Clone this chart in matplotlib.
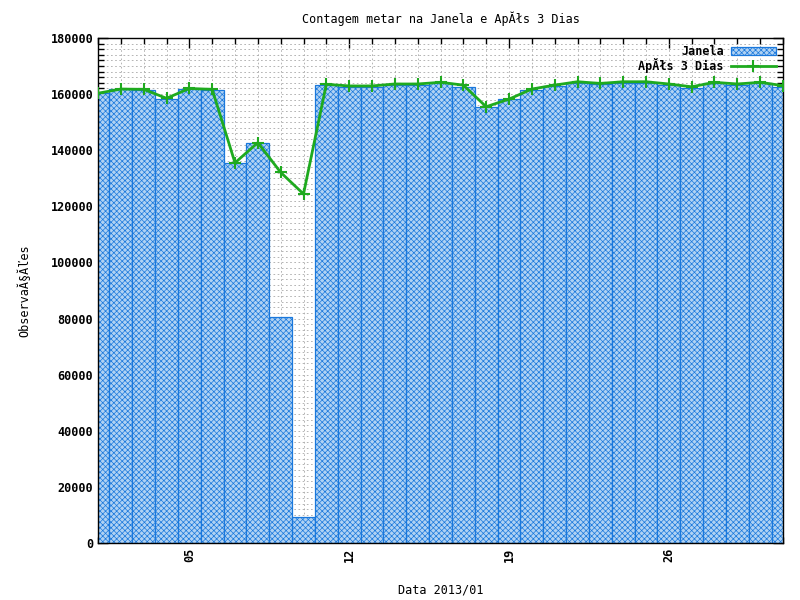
import numpy as np
import matplotlib
matplotlib.use("Agg")
import matplotlib.pyplot as plt
from matplotlib.ticker import MultipleLocator, FixedLocator

# dias de janeiro 2013
days = list(range(1, 32))

# contagem na janela (barras)
janela = [160300, 161800, 161300, 158200, 161800, 161400, 135500, 142400,
          80500, 9400, 163200, 162500, 162600, 163300, 163400, 163800,
          162600, 155300, 158200, 161400, 162900, 163900, 163500, 163900,
          164000, 163300, 162300, 163800, 163300, 163800, 162700]

# contagem apos 3 dias (linha)
apos = [160300, 161800, 161700, 158500, 162000, 161700, 135500, 142700,
        132100, 124400, 163500, 162900, 162900, 163600, 163600, 164200,
        163200, 155500, 158200, 161800, 163200, 164400, 163800, 164400,
        164400, 163600, 162600, 164200, 163600, 164200, 163000]

xticks = [5, 12, 19, 26]
xticklabels = ["05", "12", "19", "26"]

plt.rcParams['font.family'] = ['DejaVu Sans Mono']
plt.rcParams['font.size'] = 8.5
plt.rcParams['font.weight'] = 'bold'
plt.rcParams['hatch.linewidth'] = 0.5
plt.rcParams['hatch.color'] = '#3c8ee0'

fig = plt.figure(figsize=(8, 6), dpi=100)
ax = fig.add_axes([0.1225, 0.095, 0.85625, 0.8417])

bars = ax.bar(days, janela, width=1.0, facecolor='#b0d2f3', edgecolor='#1a78dc',
              linewidth=0.9, hatch='xxxxxx', label='Janela', zorder=2)
line, = ax.plot(days, apos, color='#1faa1f', linewidth=2, marker='+', markersize=9,
                markeredgewidth=1.5, label='ApĂłs 3 Dias', zorder=3)

ax.set_xlim(1, 31)
ax.set_ylim(0, 180000)

ax.yaxis.set_major_locator(MultipleLocator(20000))
ax.yaxis.set_minor_locator(MultipleLocator(2000))
ax.xaxis.set_major_locator(FixedLocator(xticks))
ax.set_xticklabels(xticklabels, rotation=90)
ax.xaxis.set_minor_locator(MultipleLocator(1))

ax.tick_params(which='both', direction='in', top=True, right=True, colors='black')
ax.tick_params(which='major', length=7, width=1)
ax.tick_params(which='minor', length=4, width=1)

# grade pontilhada
ax.grid(which='both', color='#a8a8a8', linestyle=(0, (2, 3)), linewidth=0.6, zorder=0)
ax.set_axisbelow(True)

for s in ax.spines.values():
    s.set_linewidth(1)

ax.set_title('Contagem metar na Janela e ApĂłs 3 Dias', fontsize=8.5, pad=10.5)
ax.set_xlabel('Data 2013/01', va='center')
ax.xaxis.set_label_coords(0.5, -0.093)
ax.set_ylabel('ObservaĂ§Ăľes', labelpad=14)

leg = ax.legend([bars, line], ['Janela', 'ApĂłs 3 Dias'], loc='upper right',
                frameon=False, markerfirst=False, handlelength=3.8,
                borderaxespad=0.2, labelspacing=0.0, handletextpad=0.6)

plt.savefig('out.png', dpi=100)
